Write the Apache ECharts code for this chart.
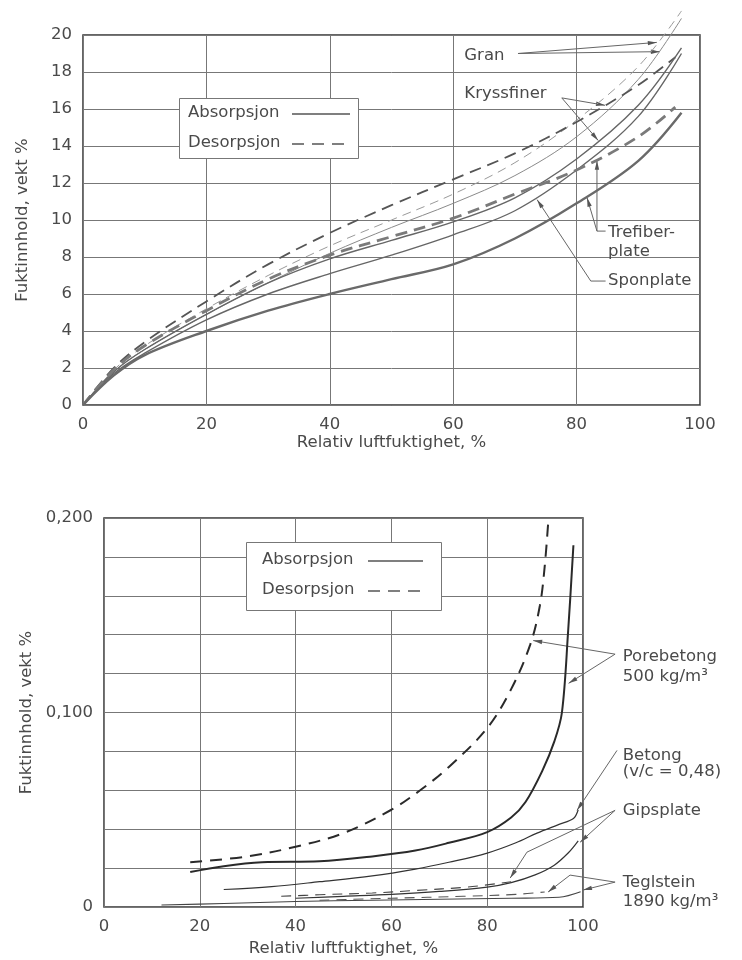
<!DOCTYPE html>
<html>
<head>
<meta charset="utf-8">
<script src="https://cdn.jsdelivr.net/npm/echarts@6.0.0/dist/echarts.min.js"></script>
<style>
  html, body { margin: 0; padding: 0; background: #fff; }
  #chart { width: 742px; height: 960px; }
</style>
</head>
<body>
<div id="chart"></div>
<script>
// øvre diagram: trematerialer, [relativ fuktighet %, fuktinnhold vekt %]
const granDes = [[0,0],[5,1.9],[10,3.2],[20,5.2],[30,7.0],[40,8.6],[50,10.0],[60,11.4],[70,13.1],[80,15.4],[90,18.3],[97,21.3]];
const granAbs = [[0,0],[5,1.8],[10,3.0],[20,4.9],[30,6.6],[40,8.2],[50,9.6],[60,10.9],[70,12.4],[80,14.5],[90,17.6],[97,20.9]];
const kryssDes = [[0,0],[5,2.0],[10,3.4],[20,5.6],[30,7.6],[40,9.3],[50,10.8],[60,12.2],[70,13.6],[80,15.3],[90,17.3],[96,18.8]];
const kryssAbs = [[0,0],[5,1.8],[10,3.0],[20,4.9],[30,6.6],[40,7.9],[50,8.9],[60,9.9],[70,11.2],[80,13.3],[90,16.2],[97,19.3]];
const sponAbs = [[0,0],[5,1.7],[10,2.8],[20,4.6],[30,6.0],[40,7.1],[50,8.1],[60,9.2],[70,10.5],[80,12.7],[90,15.6],[97,19.0]];
const trefDes = [[0,0],[5,1.9],[10,3.2],[20,5.1],[30,6.8],[40,8.1],[50,9.1],[60,10.1],[70,11.4],[80,12.7],[90,14.5],[96,16.1]];
const trefAbs = [[0,0],[5,1.6],[10,2.7],[20,4.0],[30,5.1],[40,6.0],[50,6.8],[60,7.6],[70,9.0],[80,10.9],[90,13.2],[97,15.8]];

// nedre diagram: mineralske materialer
const poreDes = [[18,0.023],[30,0.026],[40,0.031],[50,0.038],[60,0.050],[66,0.060],[72,0.072],[80,0.092],[85,0.112],[89,0.135],[91,0.155],[92,0.175],[92.8,0.2]];
const poreAbs = [[18,0.018],[25,0.021],[33,0.023],[45,0.0235],[56,0.026],[65,0.029],[72,0.033],[80,0.0385],[85,0.046],[88,0.054],[91.5,0.07],[94,0.085],[95.6,0.1],[96.9,0.142],[98,0.186]];
const betong = [[25,0.009],[35,0.0105],[45,0.013],[56,0.016],[65,0.0195],[72,0.023],[80,0.0277],[86,0.033],[90.4,0.038],[95,0.0425],[98,0.0455],[99,0.05]];
const gipsAbs = [[40,0.0045],[50,0.0055],[60,0.0065],[70,0.008],[80,0.0102],[85,0.0125],[90,0.0165],[94,0.0215],[97,0.028],[99,0.034]];
const gipsDes = [[37,0.0055],[45,0.0063],[56,0.0072],[65,0.0085],[76,0.0103],[85,0.013]];
const teglAbs = [[12,0.001],[25,0.0018],[40,0.0028],[56,0.0035],[70,0.004],[85,0.0045],[95,0.005],[99.5,0.0078]];
const teglDes = [[45,0.0035],[60,0.0045],[75,0.0055],[86,0.0065],[92,0.0077]];

const legendNames = ['Absorpsjon', 'Desorpsjon'];

const FONT = '"DejaVu Sans", sans-serif';
const FS = 16.5;
const TXT = '#4a4a4a';

const chart = echarts.init(document.getElementById('chart'), null, { renderer: 'canvas' });

const line = (name, data, grid, width, color, dash, clip) => ({
  type: 'line',
  name: name,
  data: data,
  xAxisIndex: grid,
  yAxisIndex: grid,
  symbol: 'none',
  smooth: 0.35,
  clip: clip !== false,
  silent: true,
  lineStyle: { width: width, color: color, type: dash || 'solid' }
});

const xAxisBase = (grid, nameGap) => ({
  gridIndex: grid,
  type: 'value',
  min: 0, max: 100, interval: 20,
  name: 'Relativ luftfuktighet, %',
  nameLocation: 'middle',
  nameGap: nameGap,
  nameTextStyle: { fontFamily: FONT, fontSize: FS, color: TXT },
  axisLine: { show: false },
  axisTick: { show: false },
  axisLabel: { margin: 11, fontFamily: FONT, fontSize: FS, color: TXT },
  splitLine: { show: true, lineStyle: { color: '#777', width: 1 } }
});

const option = {
  animation: false,
  backgroundColor: '#fff',
  grid: [
    { left: 83, top: 35, width: 617, height: 370, show: true, borderColor: '#333', borderWidth: 1.5 },
    { left: 104, top: 518, width: 479, height: 389, show: true, borderColor: '#333', borderWidth: 1.5 }
  ],
  xAxis: [xAxisBase(0, 28), xAxisBase(1, 33)],
  yAxis: [
    {
      gridIndex: 0, type: 'value', min: 0, max: 20, interval: 2,
      name: 'Fuktinnhold, vekt %', nameLocation: 'middle', nameGap: 52,
      nameTextStyle: { fontFamily: FONT, fontSize: FS, color: TXT },
      axisLine: { show: false }, axisTick: { show: false },
      axisLabel: { margin: 11, fontFamily: FONT, fontSize: FS, color: TXT },
      splitLine: { show: true, lineStyle: { color: '#777', width: 1 } }
    },
    {
      gridIndex: 1, type: 'value', min: 0, max: 0.2, interval: 0.02,
      name: 'Fuktinnhold, vekt %', nameLocation: 'middle', nameGap: 68,
      nameTextStyle: { fontFamily: FONT, fontSize: FS, color: TXT },
      axisLine: { show: false }, axisTick: { show: false },
      axisLabel: {
        margin: 11, fontFamily: FONT, fontSize: FS, color: TXT,
        formatter: v => {
          if (Math.abs(v) < 1e-9) return '0';
          if (Math.abs(v - 0.1) < 1e-9) return '0,100';
          if (Math.abs(v - 0.2) < 1e-9) return '0,200';
          return '';
        }
      },
      splitLine: { show: true, lineStyle: { color: '#777', width: 1 } }
    }
  ],
  series: [
    line('Gran desorpsjon', granDes, 0, 1, '#9a9a9a', [9, 6], false),
    line('Gran absorpsjon', granAbs, 0, 1, '#8a8a8a', 'solid', false),
    line('Kryssfiner desorpsjon', kryssDes, 0, 1.8, '#555', [12, 7]),
    line('Kryssfiner absorpsjon', kryssAbs, 0, 1.4, '#666'),
    line('Sponplate absorpsjon', sponAbs, 0, 1.4, '#666'),
    line('Trefiberplate desorpsjon', trefDes, 0, 2.8, '#7a7a7a', [12, 7]),
    line('Trefiberplate absorpsjon', trefAbs, 0, 2.4, '#6a6a6a'),

    line('Porebetong desorpsjon', poreDes, 1, 2, '#2a2a2a', [12, 8]),
    line('Porebetong absorpsjon', poreAbs, 1, 2, '#2a2a2a'),
    line('Betong absorpsjon', betong, 1, 1.2, '#333'),
    line('Gipsplate absorpsjon', gipsAbs, 1, 1.2, '#333'),
    line('Gipsplate desorpsjon', gipsDes, 1, 1.1, '#444', [10, 7]),
    line('Teglstein absorpsjon', teglAbs, 1, 1.1, '#444'),
    line('Teglstein desorpsjon', teglDes, 1, 1.1, '#555', [10, 7])
  ]
};

chart.setOption(option);

// merknader med piler, angitt i datakoordinater
const notes = [
  { grid: 0, text: 'Gran', at: [61.8, 18.9] },
  { grid: 0, text: 'Kryssfiner', at: [61.8, 16.85] },
  { grid: 0, text: 'Trefiber-', at: [85.1, 9.3] },
  { grid: 0, text: 'plate', at: [85.1, 8.3] },
  { grid: 0, text: 'Sponplate', at: [85.1, 6.7] },
  { grid: 1, text: 'Porebetong', at: [108.3, 0.1285] },
  { grid: 1, text: '500 kg/m³', at: [108.3, 0.1185] },
  { grid: 1, text: 'Betong', at: [108.3, 0.078] },
  { grid: 1, text: '(v/c = 0,48)', at: [108.3, 0.0695] },
  { grid: 1, text: 'Gipsplate', at: [108.3, 0.0497] },
  { grid: 1, text: 'Teglstein', at: [108.3, 0.0125] },
  { grid: 1, text: '1890 kg/m³', at: [108.3, 0.0025] }
];

const arrows = [
  { grid: 0, pts: [[70.5, 19.0], [93.0, 19.6]] },
  { grid: 0, pts: [[70.5, 19.0], [93.5, 19.1]] },
  { grid: 0, pts: [[77.6, 16.6], [84.6, 16.2]] },
  { grid: 0, pts: [[77.6, 16.6], [83.5, 14.3]] },
  { grid: 0, pts: [[84.7, 9.4], [83.3, 9.4], [83.3, 13.2]] },
  { grid: 0, pts: [[83.3, 9.4], [81.7, 11.2]] },
  { grid: 0, pts: [[84.7, 6.7], [82.3, 6.7], [73.6, 11.1]] },
  { grid: 1, pts: [[106.7, 0.130], [89.6, 0.137]] },
  { grid: 1, pts: [[106.7, 0.130], [97.0, 0.115]] },
  { grid: 1, pts: [[107.1, 0.0805], [98.75, 0.0497]] },
  { grid: 1, pts: [[106.7, 0.0497], [88.3, 0.0282], [84.8, 0.0149]] },
  { grid: 1, pts: [[106.7, 0.0497], [99.4, 0.0333]] },
  { grid: 1, pts: [[106.7, 0.0128], [97.3, 0.0164], [92.7, 0.0077]] },
  { grid: 1, pts: [[106.7, 0.0128], [100, 0.0087]] }
];

// tegnforklaringsbokser (piksler)
const legends = [
  { x: 179, y: 98, w: 179, h: 60, textX: 188, rows: [113, 143], lineX: [292, 350] },
  { x: 246, y: 542, w: 195, h: 68, textX: 262, rows: [560, 590], lineX: [368, 423] }
];

const toPx = (grid, p) => chart.convertToPixel({ gridIndex: grid }, p);

const elements = [];
legends.forEach(l => {
  elements.push({
    type: 'rect', silent: true, z: 10,
    shape: { x: l.x + 0.5, y: l.y + 0.5, width: l.w, height: l.h },
    style: { fill: '#fff', stroke: '#777', lineWidth: 1 }
  });
  legendNames.forEach((name, i) => {
    elements.push({
      type: 'text', silent: true, z: 11, x: l.textX, y: l.rows[i],
      style: { text: name, fill: TXT, fontFamily: FONT, fontSize: FS, verticalAlign: 'middle', align: 'left' }
    });
    elements.push({
      type: 'line', silent: true, z: 11,
      shape: { x1: l.lineX[0], y1: l.rows[i] + 1, x2: l.lineX[1], y2: l.rows[i] + 1 },
      style: { stroke: '#555', lineWidth: 1.3, lineDash: i === 1 ? [12, 8] : null }
    });
  });
});
notes.forEach(n => {
  const p = toPx(n.grid, n.at);
  elements.push({
    type: 'text', x: p[0], y: p[1], silent: true,
    style: { text: n.text, fill: TXT, fontFamily: FONT, fontSize: FS, verticalAlign: 'middle', align: 'left' }
  });
});
arrows.forEach(a => {
  const pts = a.pts.map(p => toPx(a.grid, p));
  elements.push({
    type: 'polyline', silent: true,
    shape: { points: pts },
    style: { stroke: '#666', lineWidth: 1, fill: null }
  });
  // pilspiss
  const tip = pts[pts.length - 1], prev = pts[pts.length - 2];
  const dx = tip[0] - prev[0], dy = tip[1] - prev[1];
  const len = Math.sqrt(dx * dx + dy * dy) || 1;
  const ux = dx / len, uy = dy / len;
  const bx = tip[0] - ux * 9, by = tip[1] - uy * 9;
  elements.push({
    type: 'polygon', silent: true,
    shape: { points: [tip, [bx - uy * 2.2, by + ux * 2.2], [bx + uy * 2.2, by - ux * 2.2]] },
    style: { fill: '#555' }
  });
});

chart.setOption({ graphic: elements });
</script>
</body>
</html>
